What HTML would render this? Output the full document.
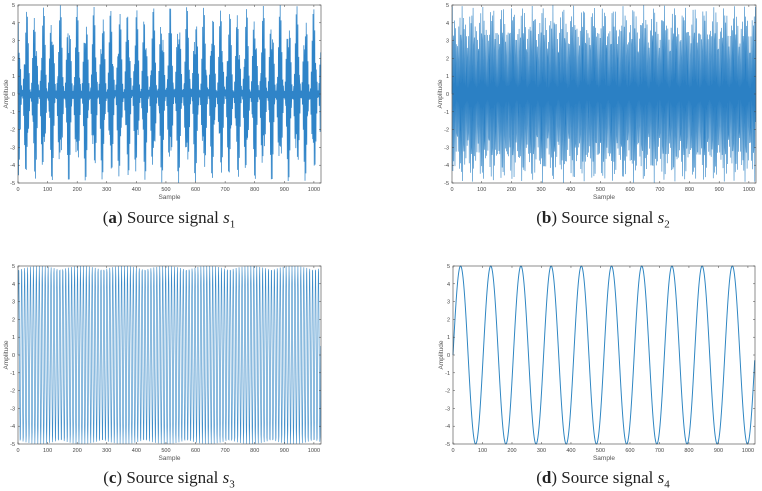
<!DOCTYPE html>
<html><head><meta charset="utf-8">
<style>
body{margin:0;background:#fff;width:762px;height:491px;overflow:hidden;position:relative;font-family:"Liberation Sans",sans-serif}
svg{position:absolute;left:0;top:0}
.cap{position:absolute;font-family:"Liberation Serif",serif;font-size:17px;color:#222;white-space:nowrap;transform:translateX(-50%)}
.cap i{font-style:italic}
.cap sub{font-size:11px}
</style></head><body>
<svg id="chart" width="762" height="491"></svg>
<div class="cap" style="left:169px;top:208px">(<b>a</b>) Source signal <i>s</i><sub>1</sub></div>
<div class="cap" style="left:603px;top:208px">(<b>b</b>) Source signal <i>s</i><sub>2</sub></div>
<div class="cap" style="left:169px;top:468px">(<b>c</b>) Source signal <i>s</i><sub>3</sub></div>
<div class="cap" style="left:603px;top:468px">(<b>d</b>) Source signal <i>s</i><sub>4</sub></div>
<script>
const xTicks=[0,100,200,300,400,500,600,700,800,900,1000];
const yTicks=[-5,-4,-3,-2,-1,0,1,2,3,4,5];
// sinusoid components per signal: frequencies (cycles/sample), amplitudes
const s1Freq=[0.3163,0.3513,0.3863];
const s1Amp=[1.2,2.6,1.2];
const s2Freq=[0.2713,0.3007];
const s2Amp=[4.2,0.8];
const s3Freq=[0.1007];
const s3Amp=[5];
const s4Freq=[0.009766];
const s4Amp=[5];
const nSamples=1024;
const panels=[
 {name:'a',x0:18,x1:321,y0:5,y1:183,f:s1Freq,a:s1Amp,col:'#2f84c8',w:0.75},
 {name:'b',x0:452,x1:756,y0:5,y1:183,f:s2Freq,a:s2Amp,col:'#2b80c4',w:0.6},
 {name:'c',x0:18,x1:321,y0:266,y1:444,f:s3Freq,a:s3Amp,col:'#3d8cc9',w:0.6},
 {name:'d',x0:453,x1:755,y0:266,y1:444,f:s4Freq,a:s4Amp,col:'#2f86c2',w:1}
];
const svg=document.getElementById('chart');
const NS='http://www.w3.org/2000/svg';
function mk(t,at,p){const e=document.createElementNS(NS,t);for(const k in at)e.setAttribute(k,at[k]);(p||svg).appendChild(e);return e;}
panels.forEach(p=>{
 const g=mk('g',{});
 
 
 const xs=v=>p.x0+(v/1024)*(p.x1-p.x0);
 const ys=v=>p.y1-(v+5)/10*(p.y1-p.y0);
 let d='';
 for(let n=0;n<nSamples;n++){let v=0;for(let k=0;k<p.f.length;k++)v+=p.a[k]*Math.sin(2*Math.PI*p.f[k]*n);
  v=Math.max(-5,Math.min(5,v));d+=(n?'L':'M')+xs(n).toFixed(2)+' '+ys(v).toFixed(2);}
 const line=mk('path',{d:d,fill:'none',stroke:p.col,'stroke-width':p.w},g);
 
 
 const box=mk('rect',{x:p.x0,y:p.y0,width:p.x1-p.x0,height:p.y1-p.y0,fill:'none',stroke:'#444','stroke-width':0.6},g);
 
 
 xTicks.forEach(t=>{const x=xs(t);
  mk('line',{x1:x,x2:x,y1:p.y1,y2:p.y1-2,stroke:'#444','stroke-width':0.5},g);
  mk('line',{x1:x,x2:x,y1:p.y0,y2:p.y0+2,stroke:'#444','stroke-width':0.5},g);
  const tx=mk('text',{x:x,y:p.y1+8,'font-size':5.5,fill:'#444','text-anchor':'middle'},g);tx.textContent=t;
  
  });
 yTicks.forEach(t=>{const y=ys(t);
  mk('line',{x1:p.x0,x2:p.x0+2,y1:y,y2:y,stroke:'#444','stroke-width':0.5},g);
  mk('line',{x1:p.x1,x2:p.x1-2,y1:y,y2:y,stroke:'#444','stroke-width':0.5},g);
  const tx=mk('text',{x:p.x0-3,y:y+2,'font-size':5.5,fill:'#444','text-anchor':'end'},g);tx.textContent=t;
  
  });
 const xl=mk('text',{x:(p.x0+p.x1)/2,y:p.y1+16,'font-size':6.5,fill:'#555','text-anchor':'middle'},g);xl.textContent='Sample';
 
 
 const cy=(p.y0+p.y1)/2;
 const yl=mk('text',{x:p.x0-10,y:cy,'font-size':6.5,fill:'#555','text-anchor':'middle',transform:`rotate(-90 ${p.x0-10} ${cy})`},g);yl.textContent='Amplitude';
 
 
});
</script>
</body></html>
